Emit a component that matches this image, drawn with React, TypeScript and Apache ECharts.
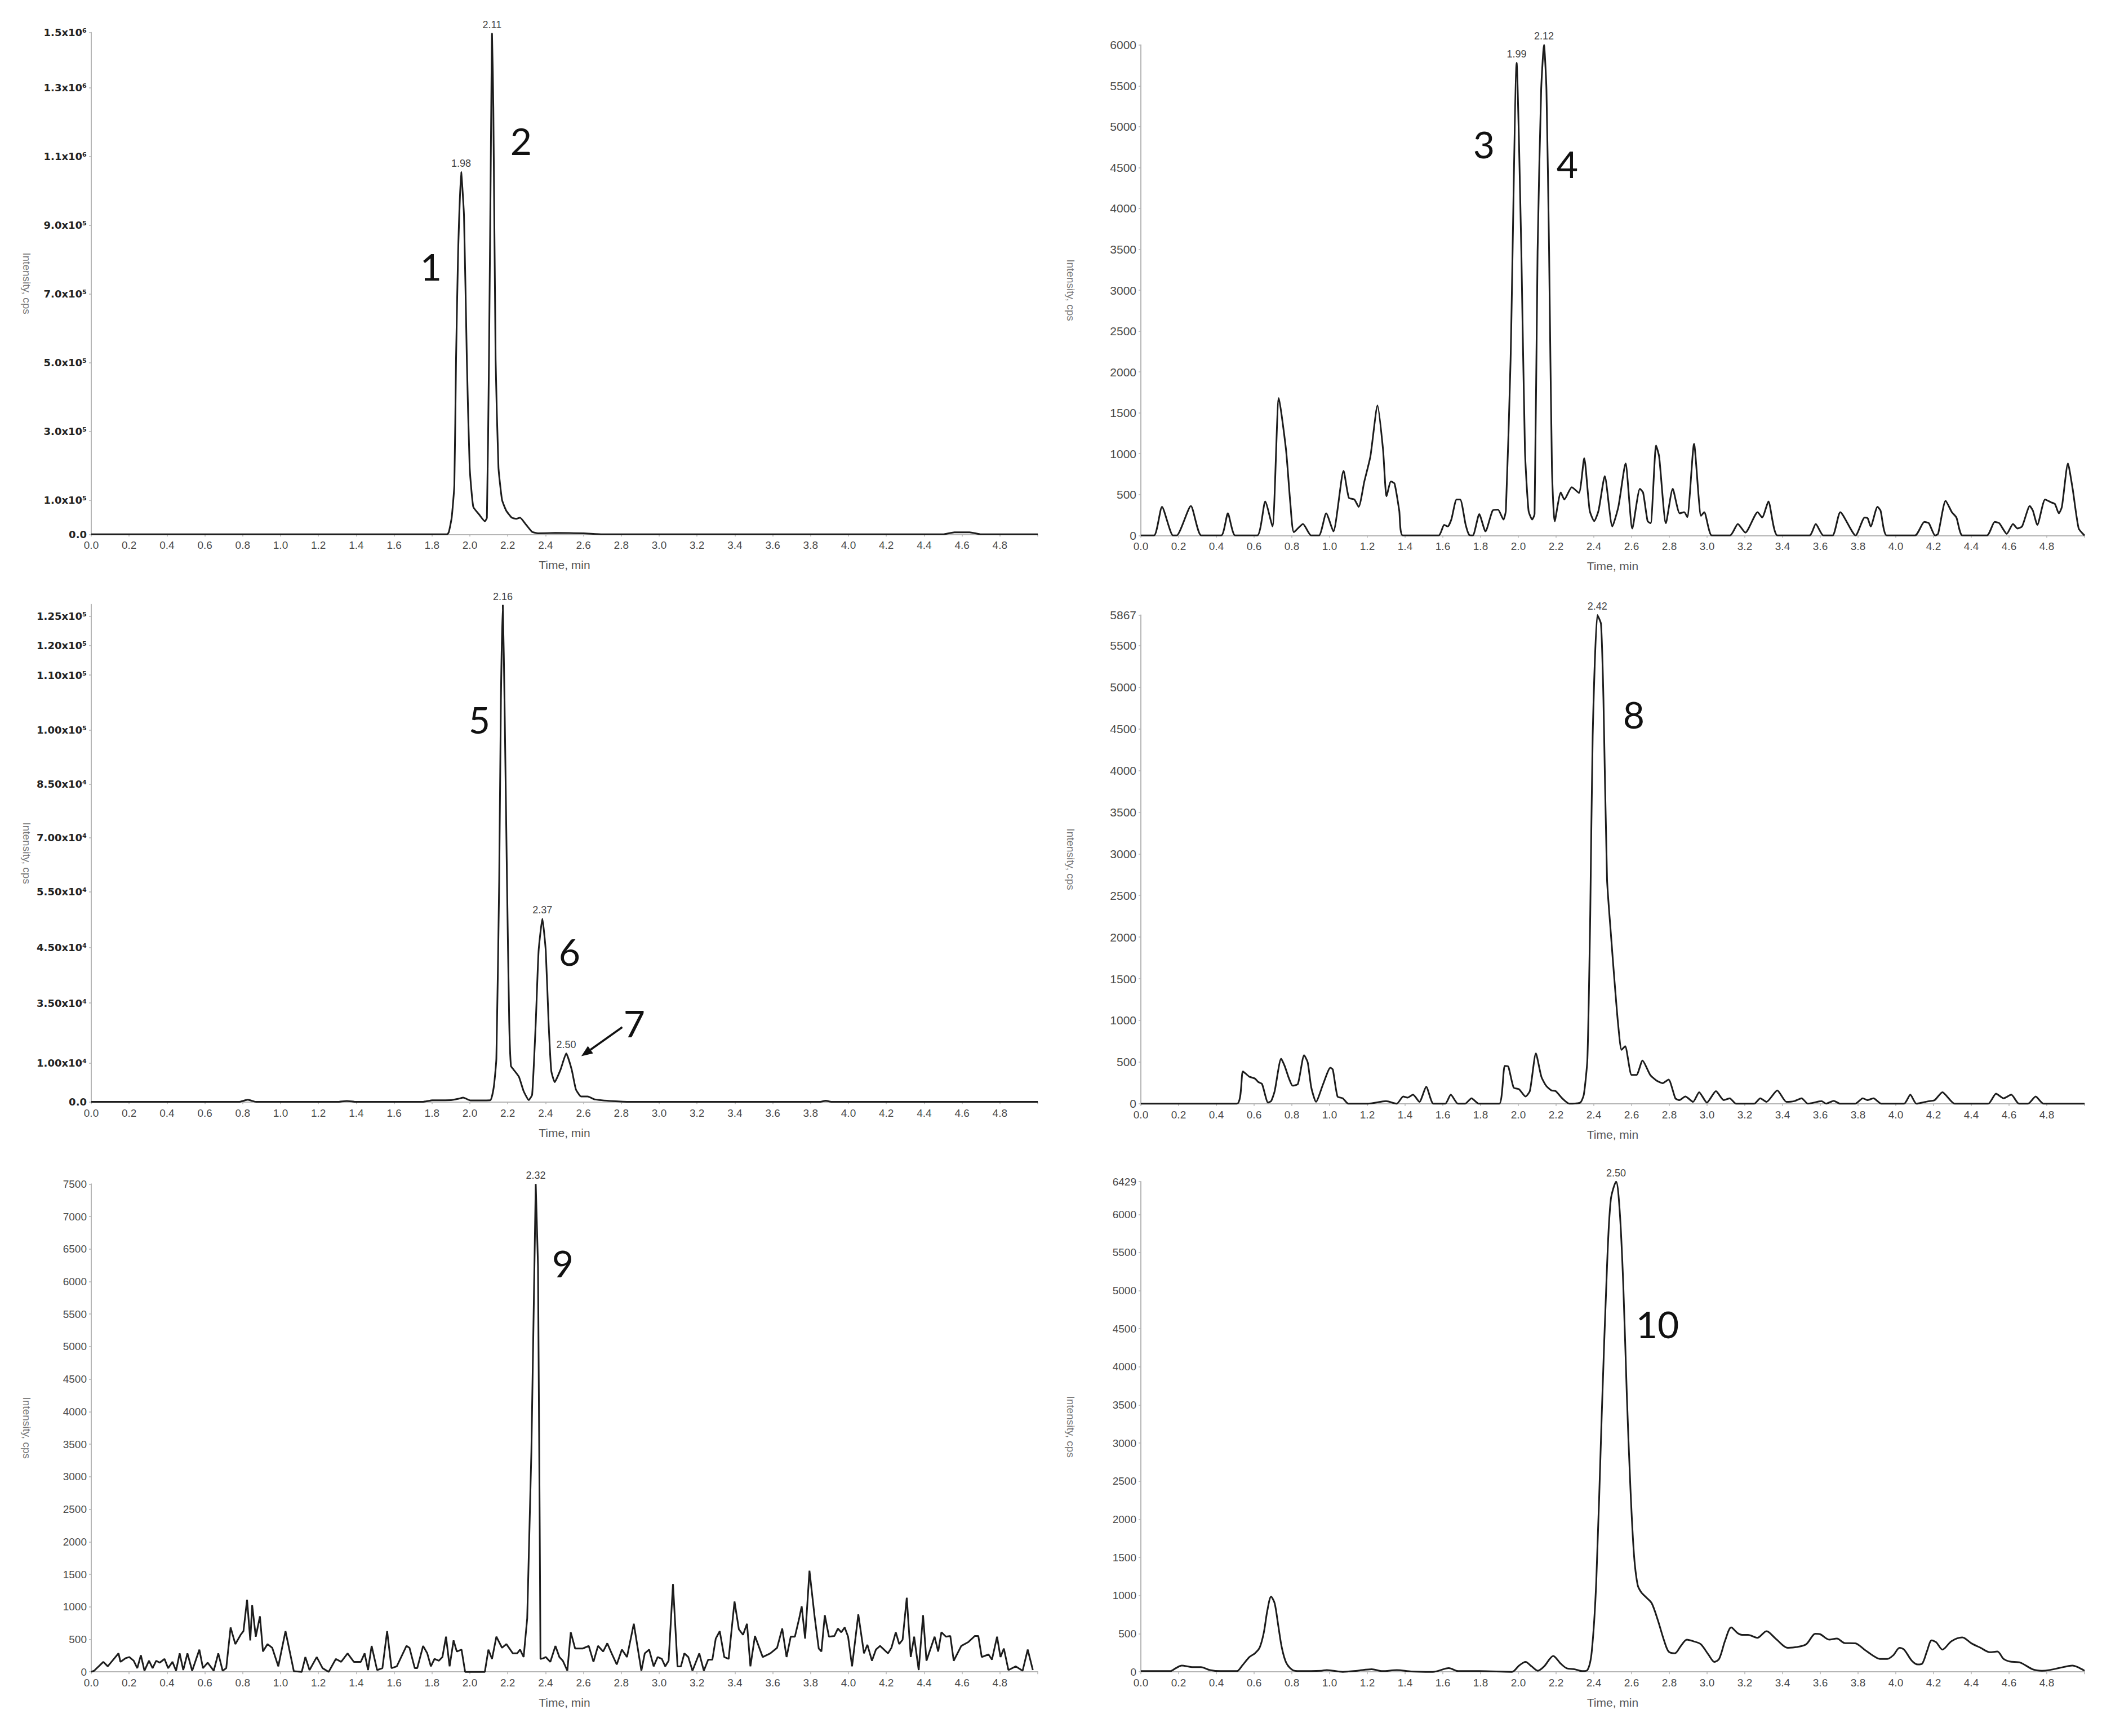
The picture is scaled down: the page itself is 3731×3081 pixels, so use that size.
import React, { useEffect, useRef } from "react";
import * as echarts from "echarts";

// ---------- DATA (time in min, intensity in cps) ----------
const p1Data: [number, number][] = [
  [0, 0], [1.88, 0], [1.889, 6700], [1.904, 48500], [1.918, 143000], [1.927, 509000], [1.938, 822000],
  [1.954, 1054000], [1.969, 927000], [1.984, 509000], [1.999, 195000], [2.018, 80000], [2.05, 57000],
  [2.079, 38000], [2.09, 48000], [2.101, 509000], [2.113, 1240000], [2.117, 1457000], [2.124, 1240000],
  [2.136, 509000], [2.151, 195000], [2.17, 100000], [2.192, 69000], [2.221, 48500], [2.245, 45000],
  [2.265, 48500], [2.297, 28000], [2.329, 7000], [2.36, 3000], [2.45, 4000], [2.6, 3000], [2.7, 0],
  [4.5, 0], [4.56, 6000], [4.64, 6000], [4.7, 0], [5.0, 0],
];
const p2Data: [number, number][] = [
  [0, 0], [0.07, 0], [0.112, 350], [0.17, 0], [0.19, 0], [0.265, 360], [0.32, 0], [0.426, 0], [0.461, 270],
  [0.5, 0], [0.617, 0], [0.659, 415], [0.697, 110], [0.731, 1680], [0.769, 1050], [0.792, 395], [0.811, 40],
  [0.859, 140], [0.902, 0], [0.944, 0], [0.982, 270], [1.02, 50], [1.074, 790], [1.102, 460], [1.131, 440],
  [1.154, 350], [1.184, 660], [1.216, 965], [1.254, 1590], [1.283, 1055], [1.302, 480], [1.325, 660],
  [1.344, 635], [1.369, 305], [1.388, 0], [1.578, 0], [1.607, 130], [1.626, 110], [1.645, 195], [1.673, 440],
  [1.692, 440], [1.721, 130], [1.74, 5], [1.759, 0], [1.793, 260], [1.826, 50], [1.864, 305], [1.892, 315],
  [1.921, 195], [1.934, 305], [1.959, 2150], [1.991, 5780], [2.016, 3470], [2.035, 1050], [2.054, 305],
  [2.073, 195], [2.086, 260], [2.102, 3470], [2.121, 5450], [2.136, 6000], [2.149, 5450], [2.163, 3470],
  [2.178, 835], [2.193, 175], [2.225, 525], [2.244, 440], [2.283, 590], [2.321, 520], [2.349, 945],
  [2.378, 305], [2.402, 175], [2.425, 305], [2.458, 725], [2.498, 110], [2.53, 350], [2.568, 880],
  [2.604, 85], [2.644, 570], [2.661, 525], [2.685, 175], [2.701, 150], [2.73, 1100], [2.746, 965],
  [2.782, 150], [2.818, 570], [2.855, 270], [2.879, 285], [2.895, 225], [2.931, 1120], [2.968, 240],
  [2.985, 285], [3.025, 0], [3.122, 0], [3.163, 140], [3.203, 35], [3.268, 285], [3.292, 220], [3.325, 415],
  [3.373, 0], [3.543, 0], [3.576, 140], [3.616, 0], [3.665, 0], [3.706, 285], [3.787, 0], [3.835, 220],
  [3.851, 210], [3.867, 110], [3.903, 350], [3.919, 305], [3.952, 0], [4.102, 0], [4.151, 165], [4.175, 150],
  [4.208, 0], [4.224, 20], [4.264, 425], [4.297, 285], [4.321, 220], [4.353, 0], [4.483, 0], [4.524, 165],
  [4.548, 150], [4.588, 20], [4.621, 140], [4.645, 85], [4.669, 110], [4.71, 360], [4.726, 305], [4.75, 130],
  [4.791, 440], [4.823, 405], [4.843, 385], [4.864, 270], [4.88, 350], [4.912, 880], [4.937, 570],
  [4.969, 85], [5.0, 0],
];
const p3Data: [number, number][] = [
  [0, 0], [0.78, 0], [0.827, 550], [0.87, 0], [1.3, 0], [1.35, 250], [1.4, 0], [1.75, 0], [1.8, 400],
  [1.9, 450], [1.94, 800], [1.965, 1100], [2.003, 370], [2.107, 400], [2.126, 3700], [2.14, 11100],
  [2.155, 57300], [2.164, 103500], [2.174, 127800], [2.183, 103500], [2.196, 57300], [2.208, 20300],
  [2.217, 9250], [2.231, 8300], [2.259, 6470], [2.284, 2770], [2.311, 460], [2.329, 1850], [2.348, 20300],
  [2.363, 38800], [2.383, 47150], [2.401, 38800], [2.416, 20300], [2.43, 8000], [2.448, 5085], [2.479, 8300],
  [2.509, 12480], [2.538, 8300], [2.56, 3240], [2.587, 1390], [2.623, 1390], [2.659, 650], [2.758, 185],
  [2.85, 0], [3.85, 0], [3.88, 300], [3.91, 0], [5.0, 0],
];
const p4Data: [number, number][] = [
  [0, 0], [0.509, 0], [0.541, 388], [0.575, 324], [0.604, 302], [0.623, 259], [0.642, 237], [0.674, 13],
  [0.69, 30], [0.709, 151], [0.743, 540], [0.762, 453], [0.785, 302], [0.804, 216], [0.832, 237], [0.865, 582],
  [0.884, 496], [0.903, 194], [0.928, 22], [0.966, 237], [1.004, 431], [1.017, 410], [1.042, 86], [1.07, 65],
  [1.099, 0], [1.204, 0], [1.299, 30], [1.356, 0], [1.39, 86], [1.413, 73], [1.442, 108], [1.476, 22],
  [1.512, 203], [1.55, 0], [1.613, 0], [1.642, 108], [1.68, 0], [1.718, 0], [1.752, 65], [1.79, 0],
  [1.899, 0], [1.928, 453], [1.947, 444], [1.975, 194], [2.004, 173], [2.038, 86], [2.061, 151], [2.093, 604],
  [2.122, 324], [2.147, 216], [2.175, 160], [2.198, 151], [2.232, 65], [2.27, 0], [2.328, 13], [2.347, 108],
  [2.366, 540], [2.381, 2265], [2.394, 4422], [2.419, 5867], [2.438, 5760], [2.451, 4853], [2.47, 2696],
  [2.49, 2050], [2.509, 1488], [2.528, 971], [2.547, 647], [2.566, 690], [2.6, 345], [2.626, 345],
  [2.658, 518], [2.699, 345], [2.731, 280], [2.764, 246], [2.796, 289], [2.832, 65], [2.853, 43], [2.885, 86],
  [2.926, 22], [2.958, 138], [2.999, 13], [3.047, 151], [3.088, 43], [3.12, 65], [3.153, 0], [3.25, 0],
  [3.282, 65], [3.315, 22], [3.372, 160], [3.42, 22], [3.461, 30], [3.501, 65], [3.534, 0], [3.607, 30],
  [3.631, 0], [3.671, 35], [3.704, 0], [3.785, 0], [3.825, 65], [3.85, 43], [3.882, 65], [3.923, 0],
  [4.044, 0], [4.077, 108], [4.109, 0], [4.174, 30], [4.206, 43], [4.247, 138], [4.312, 0], [4.49, 0],
  [4.531, 121], [4.571, 65], [4.612, 108], [4.652, 0], [4.701, 0], [4.741, 86], [4.782, 0], [5.0, 0],
];
const p5Data: [number, number][] = [
  [0, 0], [0.015, 17], [0.064, 154], [0.087, 85], [0.144, 285], [0.154, 154], [0.182, 211], [0.201, 228],
  [0.224, 171], [0.243, 57], [0.262, 256], [0.281, 17], [0.305, 171], [0.324, 57], [0.343, 171], [0.362, 142],
  [0.387, 199], [0.406, 57], [0.429, 154], [0.448, 17], [0.467, 285], [0.486, 28], [0.508, 285], [0.533, 17],
  [0.571, 342], [0.59, 57], [0.615, 142], [0.647, 17], [0.671, 285], [0.694, 17], [0.713, 57], [0.736, 683],
  [0.761, 427], [0.789, 570], [0.804, 626], [0.823, 1110], [0.84, 484], [0.85, 1025], [0.869, 541],
  [0.891, 854], [0.907, 313], [0.931, 427], [0.956, 370], [0.988, 85], [1.026, 626], [1.07, 11], [1.112, 0],
  [1.131, 228], [1.153, 28], [1.191, 228], [1.222, 57], [1.254, 0], [1.292, 199], [1.32, 154], [1.354, 285],
  [1.387, 154], [1.424, 154], [1.444, 285], [1.462, 28], [1.481, 399], [1.51, 28], [1.538, 57], [1.563, 626],
  [1.586, 57], [1.614, 85], [1.665, 399], [1.681, 370], [1.709, 57], [1.722, 57], [1.753, 399], [1.775, 285],
  [1.794, 85], [1.813, 199], [1.836, 171], [1.855, 228], [1.874, 541], [1.893, 85], [1.914, 484], [1.931, 313],
  [1.956, 342], [1.975, 0], [2.079, 0], [2.098, 342], [2.117, 199], [2.14, 541], [2.17, 370], [2.193, 427],
  [2.227, 285], [2.25, 285], [2.265, 342], [2.284, 228], [2.303, 826], [2.325, 3389], [2.341, 6236],
  [2.348, 7500], [2.36, 6236], [2.369, 2250], [2.373, 199], [2.389, 211], [2.401, 228], [2.425, 154],
  [2.452, 399], [2.473, 228], [2.491, 171], [2.515, 17], [2.533, 609], [2.556, 359], [2.596, 359], [2.628, 399],
  [2.653, 154], [2.677, 399], [2.704, 313], [2.726, 439], [2.749, 285], [2.776, 114], [2.803, 342], [2.83, 228],
  [2.866, 740], [2.906, 17], [2.924, 285], [2.947, 342], [2.971, 85], [2.992, 228], [3.014, 199], [3.032, 85],
  [3.05, 171], [3.073, 1350], [3.097, 85], [3.115, 85], [3.133, 285], [3.154, 228], [3.176, 17], [3.212, 285],
  [3.236, 17], [3.259, 188], [3.281, 188], [3.299, 512], [3.32, 626], [3.344, 228], [3.367, 199], [3.398, 1082],
  [3.421, 655], [3.443, 570], [3.464, 740], [3.482, 85], [3.506, 552], [3.547, 228], [3.587, 285], [3.623, 370],
  [3.65, 666], [3.673, 228], [3.695, 541], [3.717, 541], [3.74, 826], [3.753, 1008], [3.771, 512], [3.794, 1555],
  [3.821, 854], [3.843, 359], [3.857, 313], [3.875, 871], [3.897, 541], [3.926, 552], [3.944, 666], [3.962, 609],
  [3.98, 683], [3.998, 541], [4.019, 85], [4.052, 883], [4.082, 285], [4.1, 416], [4.124, 171], [4.145, 342],
  [4.167, 399], [4.209, 285], [4.227, 370], [4.25, 609], [4.268, 427], [4.286, 495], [4.308, 1139], [4.329, 228],
  [4.347, 541], [4.371, 28], [4.394, 871], [4.412, 171], [4.455, 541], [4.474, 313], [4.491, 609], [4.515, 541],
  [4.538, 552], [4.556, 171], [4.596, 399], [4.632, 456], [4.668, 552], [4.686, 552], [4.704, 228], [4.74, 268],
  [4.758, 188], [4.785, 541], [4.803, 228], [4.821, 359], [4.845, 28], [4.884, 85], [4.92, 17], [4.947, 342],
  [4.974, 28],
];
const p6Data: [number, number][] = [
  [0, 10], [0.156, 10], [0.185, 49], [0.217, 83], [0.27, 63], [0.318, 63], [0.366, 24], [0.423, 10], [0.509, 10],
  [0.537, 83], [0.575, 194], [0.604, 243], [0.629, 316], [0.651, 510], [0.67, 802], [0.69, 986], [0.709, 899],
  [0.728, 607], [0.747, 316], [0.77, 121], [0.804, 24], [0.842, 10], [0.956, 15], [0.985, 24], [1.07, 0],
  [1.147, 15], [1.223, 34], [1.28, 10], [1.356, 24], [1.432, 5], [1.547, 0], [1.632, 49], [1.68, 10],
  [1.794, 10], [1.966, 0], [2.004, 83], [2.038, 131], [2.07, 73], [2.103, 15], [2.137, 73], [2.185, 209],
  [2.223, 112], [2.255, 49], [2.299, 34], [2.337, 10], [2.366, 24], [2.389, 267], [2.413, 1190], [2.442, 3377],
  [2.47, 5320], [2.49, 6195], [2.518, 6429], [2.537, 6050], [2.556, 5078], [2.575, 3620], [2.594, 2405],
  [2.613, 1530], [2.632, 1142], [2.651, 1045], [2.68, 972], [2.707, 899], [2.739, 680], [2.772, 413],
  [2.796, 267], [2.829, 243], [2.861, 340], [2.893, 423], [2.926, 403], [2.966, 364], [3.007, 228], [3.039, 131],
  [3.064, 170], [3.096, 413], [3.128, 583], [3.161, 510], [3.185, 486], [3.217, 486], [3.266, 447], [3.315, 534],
  [3.363, 437], [3.428, 316], [3.477, 326], [3.526, 364], [3.574, 500], [3.598, 495], [3.647, 423], [3.688, 437],
  [3.728, 379], [3.785, 374], [3.834, 292], [3.882, 209], [3.915, 170], [3.955, 170], [3.987, 219], [4.02, 316],
  [4.044, 292], [4.085, 146], [4.117, 97], [4.141, 112], [4.166, 277], [4.19, 413], [4.214, 389], [4.247, 292],
  [4.295, 403], [4.352, 452], [4.401, 374], [4.449, 316], [4.498, 258], [4.538, 267], [4.571, 170], [4.603, 136],
  [4.66, 121], [4.725, 34], [4.774, 15], [4.814, 24], [4.863, 49], [4.936, 83], [4.968, 58], [5.0, 15],
];

// y-axis tick values and their printed labels
const p1YTicks = [0, 100000, 300000, 500000, 700000, 900000, 1100000, 1300000, 1460000];
const p1YLabels = ["0.0", "1.0x10⁵", "3.0x10⁵", "5.0x10⁵", "7.0x10⁵", "9.0x10⁵", "1.1x10⁶", "1.3x10⁶", "1.5x10⁶"];
const p2YTicks = [0, 500, 1000, 1500, 2000, 2500, 3000, 3500, 4000, 4500, 5000, 5500, 6000];
const p2YLabels = p2YTicks.map(String);
const p3YTicks = [0, 9990, 25430, 39750, 54090, 67950, 81800, 95700, 109800, 117400, 125000];
const p3YLabels = ["0.0", "1.00x10⁴", "3.50x10⁴", "4.50x10⁴", "5.50x10⁴", "7.00x10⁴", "8.50x10⁴", "1.00x10⁵", "1.10x10⁵", "1.20x10⁵", "1.25x10⁵"];
const p4YTicks = [0, 500, 1000, 1500, 2000, 2500, 3000, 3500, 4000, 4500, 5000, 5500, 5867];
const p4YLabels = p4YTicks.map(String);
const p5YTicks = [0, 500, 1000, 1500, 2000, 2500, 3000, 3500, 4000, 4500, 5000, 5500, 6000, 6500, 7000, 7500];
const p5YLabels = p5YTicks.map(String);
const p6YTicks = [0, 500, 1000, 1500, 2000, 2500, 3000, 3500, 4000, 4500, 5000, 5500, 6000, 6429];
const p6YLabels = p6YTicks.map(String);

// retention-time labels at peaks: [time, intensity, label]
const p1Peaks: [number, number, string][] = [[1.954, 1054000, "1.98"], [2.117, 1457000, "2.11"]];
const p2Peaks: [number, number, string][] = [[1.991, 5780, "1.99"], [2.136, 6000, "2.12"]];
const p3Peaks: [number, number, string][] = [[2.174, 127800, "2.16"], [2.383, 47150, "2.37"], [2.509, 12480, "2.50"]];
const p4Peaks: [number, number, string][] = [[2.419, 5867, "2.42"]];
const p5Peaks: [number, number, string][] = [[2.348, 7500, "2.32"]];
const p6Peaks: [number, number, string][] = [[2.518, 6429, "2.50"]];

// compound numbers
const compoundLabels = ["1", "2", "3", "4", "5", "6", "7", "8", "9", "10"];

// ---------- LAYOUT ----------
const W = 3731;
const H = 3081;
const gridBoxes = [
  { left: 162, top: 57.7, width: 1680, height: 890.6 },
  { left: 2025, top: 79.7, width: 1675, height: 870.6 },
  { left: 162, top: 1072.7, width: 1680, height: 882.9 },
  { left: 2025, top: 1091.4, width: 1675, height: 867.4 },
  { left: 162, top: 2101.3, width: 1680, height: 865.9 },
  { left: 2025, top: 2097.2, width: 1675, height: 870 },
];
const compoundPos = [
  [765, 472], [925, 249], [2634, 255], [2782, 290], [851, 1276],
  [1011, 1688], [1126, 1815], [2900, 1267], [999, 2241], [2942, 2349],
];

const panels = [
  { data: p1Data, ticks: p1YTicks, labels: p1YLabels, max: 1460000, peaks: p1Peaks, bold: true, ySize: 18, smooth: 0.15 },
  { data: p2Data, ticks: p2YTicks, labels: p2YLabels, max: 6000, peaks: p2Peaks, bold: false, ySize: 21, smooth: 0.2 },
  { data: p3Data, ticks: p3YTicks, labels: p3YLabels, max: 128000, peaks: p3Peaks, bold: true, ySize: 18, smooth: 0.15 },
  { data: p4Data, ticks: p4YTicks, labels: p4YLabels, max: 5867, peaks: p4Peaks, bold: false, ySize: 21, smooth: 0.2 },
  { data: p5Data, ticks: p5YTicks, labels: p5YLabels, max: 7500, peaks: p5Peaks, bold: false, ySize: 19, smooth: 0 },
  { data: p6Data, ticks: p6YTicks, labels: p6YLabels, max: 6429, peaks: p6Peaks, bold: false, ySize: 19, smooth: 0.3 },
];

const LINE = "#1c1c1c";
const AXIS = "#b5b5b5";
const SANS = "'Liberation Sans', Arial, sans-serif";

function buildOption() {
  const grid = gridBoxes.map((g) => ({ ...g, containLabel: false }));
  const xAxis = panels.map((_, i) => ({
    type: "value",
    gridIndex: i,
    min: 0,
    max: 5,
    interval: 0.2,
    axisLine: { show: true, lineStyle: { color: AXIS, width: 2 } },
    axisTick: { show: true, length: 4, lineStyle: { color: AXIS, width: 1.5 } },
    splitLine: { show: false },
    axisLabel: {
      fontSize: 19,
      color: "#4a4a4a",
      fontFamily: SANS,
      margin: 10,
      formatter: (v: number) => (v > 4.9 ? "" : v.toFixed(1)),
    },
    name: "Time, min",
    nameLocation: "middle",
    nameGap: 44,
    nameTextStyle: { fontSize: 21, color: "#555", fontFamily: SANS },
  }));
  const yAxis = panels.map((p, i) => ({
    type: "value",
    gridIndex: i,
    min: 0,
    max: p.max,
    axisLine: { show: true, lineStyle: { color: AXIS, width: 2 } },
    axisTick: { show: true, length: 4, customValues: p.ticks, lineStyle: { color: AXIS, width: 1.5 } },
    splitLine: { show: false },
    axisLabel: {
      customValues: p.ticks,
      fontSize: p.ySize,
      fontWeight: p.bold ? "bold" : "normal",
      color: p.bold ? "#222" : "#4a4a4a",
      fontFamily: p.bold ? "'DejaVu Sans', sans-serif" : SANS,
      margin: 8,
      formatter: (v: number) => {
        const k = p.ticks.findIndex((t) => Math.abs(t - v) < p.max * 1e-6);
        return k >= 0 ? p.labels[k] : "";
      },
    },
  }));
  const series = panels.map((p, i) => ({
    type: "line",
    xAxisIndex: i,
    yAxisIndex: i,
    data: p.data,
    showSymbol: false,
    symbol: "none",
    smooth: p.smooth,
    clip: false,
    lineStyle: { color: LINE, width: 3 },
    markPoint: {
      symbol: "circle",
      symbolSize: 1,
      itemStyle: { color: "rgba(0,0,0,0)" },
      label: {
        show: true,
        position: "top",
        distance: 6,
        formatter: "{b}",
        fontSize: 18,
        color: "#444",
        fontFamily: SANS,
      },
      data: p.peaks.map(([t, v, l]) => ({ coord: [t, v], name: l })),
    },
  }));

  const graphic: any[] = [];
  compoundLabels.forEach((txt, i) => {
    graphic.push({
      type: "text",
      x: compoundPos[i][0],
      y: compoundPos[i][1],
      style: {
        text: txt,
        fontSize: 66,
        fontFamily: "Lato, 'Open Sans', sans-serif",
        fill: "#111",
        align: "center",
        verticalAlign: "middle",
      },
    });
  });
  // y-axis titles
  gridBoxes.forEach((g, i) => {
    const x = i % 2 === 0 ? 47 : 1900;
    graphic.push({
      type: "text",
      x,
      y: g.top + g.height / 2,
      rotation: -Math.PI / 2,
      style: {
        text: "Intensity, cps",
        fontSize: 19,
        fontFamily: SANS,
        fill: "#777",
        align: "center",
        verticalAlign: "middle",
      },
    });
  });
  // arrow pointing at peak 7
  const a0 = [1104.5, 1823];
  const a1 = [1031.8, 1874.6];
  const dx = a1[0] - a0[0];
  const dy = a1[1] - a0[1];
  const len = Math.hypot(dx, dy);
  const ux = dx / len;
  const uy = dy / len;
  const headL = 20;
  const headW = 8;
  const bx = a1[0] - ux * headL;
  const by = a1[1] - uy * headL;
  graphic.push({
    type: "line",
    shape: { x1: a0[0], y1: a0[1], x2: bx, y2: by },
    style: { stroke: "#111", lineWidth: 3.5 },
  });
  graphic.push({
    type: "polygon",
    shape: {
      points: [
        [a1[0], a1[1]],
        [bx - uy * headW, by + ux * headW],
        [bx + uy * headW, by - ux * headW],
      ],
    },
    style: { fill: "#111" },
  });

  return {
    animation: false,
    backgroundColor: "#ffffff",
    grid,
    xAxis,
    yAxis,
    series,
    graphic,
  };
}

export default function App() {
  const ref = useRef<HTMLDivElement>(null);
  useEffect(() => {
    if (!ref.current) return;
    const chart = echarts.init(ref.current, undefined, { renderer: "svg", width: W, height: H });
    chart.setOption(buildOption() as any);
    return () => chart.dispose();
  }, []);
  return (
    <div
      ref={ref}
      style={{ position: "fixed", left: 0, top: 0, width: W, height: H, background: "#fff" }}
    />
  );
}
